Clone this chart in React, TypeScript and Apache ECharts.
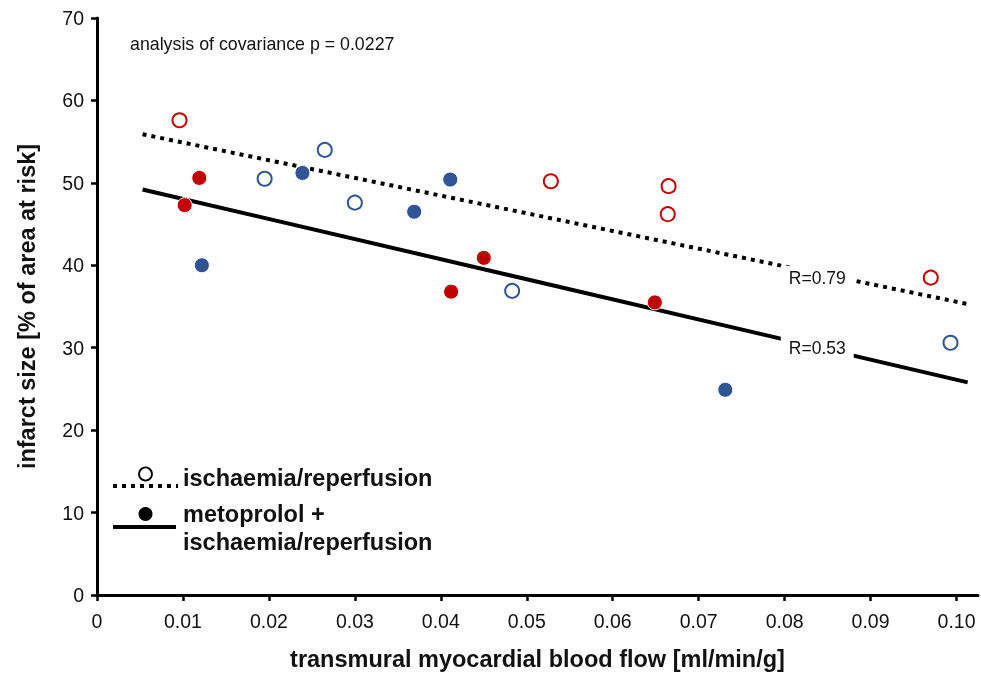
import React, { useEffect, useRef } from "react";
import * as echarts from "echarts";

const RED = "#c00000";
const BLUE = "#2f5597";

// ischaemia/reperfusion (open circles)
const irRed: [number, number][] = [
  [0.0096, 57.6], [0.0528, 50.2], [0.0665, 49.6], [0.0664, 46.2], [0.097, 38.5],
];
const irBlue: [number, number][] = [
  [0.0195, 50.5], [0.0265, 54.0], [0.03, 47.6], [0.0483, 36.9], [0.0993, 30.6],
];
// metoprolol + ischaemia/reperfusion (filled circles)
const metRed: [number, number][] = [
  [0.0119, 50.6], [0.0102, 47.3], [0.045, 40.9], [0.0412, 36.8], [0.0649, 35.5],
];
const metBlue: [number, number][] = [
  [0.0122, 40.0], [0.0239, 51.2], [0.0411, 50.4], [0.0369, 46.5], [0.0731, 24.9],
];
// regression lines
const irFit: [number, number][] = [[0.0053, 55.9], [0.1013, 35.3]];
const metFit: [number, number][] = [[0.0053, 49.2], [0.1013, 25.8]];
const irR = { label: "R=0.79", coord: [0.0838, 38.5] };
const metR = { label: "R=0.53", coord: [0.0838, 30.0] };

const xTicks = [0, 0.01, 0.02, 0.03, 0.04, 0.05, 0.06, 0.07, 0.08, 0.09, 0.1];
const FONT = "Liberation Sans, Arial, sans-serif";

export default function App() {
  const ref = useRef<HTMLDivElement>(null);
  useEffect(() => {
    const chart = echarts.init(ref.current!, null, { renderer: "svg" });
    const openStyle = (c: string) => ({ color: "#ffffff", borderColor: c, borderWidth: 2, opacity: 1 });
    const fillStyle = (c: string) => ({ color: c, borderColor: "#ffffff", borderWidth: 1, opacity: 1 });
    const rLabel = (r: { label: string; coord: number[] }) => ({
      silent: true,
      data: [
        {
          coord: r.coord,
          symbol: "rect",
          symbolSize: [2, 2],
          itemStyle: { color: "rgba(255,255,255,0)" },
          label: {
            show: true,
            position: "inside",
            formatter: r.label,
            color: "#111",
            fontFamily: FONT,
            fontSize: 17.5,
            backgroundColor: "#ffffff",
            padding: [3, 8],
          },
        },
      ],
    });
    chart.setOption({
      animation: false,
      textStyle: { fontFamily: FONT },
      grid: { left: 97, right: 3, top: 18, bottom: 72, containLabel: false },
      xAxis: {
        type: "value",
        min: 0,
        max: 0.1025,
        splitLine: { show: false },
        axisLine: { lineStyle: { color: "#000", width: 3 } },
        axisTick: { customValues: xTicks, length: 6, lineStyle: { color: "#000", width: 2.5 } },
        axisLabel: {
          customValues: xTicks,
          formatter: (v: number) => (v === 0 ? "0" : v.toFixed(2)),
          color: "#111",
          fontSize: 19.5,
          fontFamily: FONT,
          margin: 16,
        },
        name: "transmural myocardial blood flow [ml/min/g]",
        nameLocation: "middle",
        nameGap: 52,
        nameTextStyle: { fontSize: 23.5, fontWeight: "bold", color: "#111", fontFamily: FONT },
      },
      yAxis: {
        type: "value",
        min: 0,
        max: 70,
        interval: 10,
        splitLine: { show: false },
        axisLine: { show: true, lineStyle: { color: "#000", width: 3 } },
        axisTick: { show: true, length: 6, lineStyle: { color: "#000", width: 2.5 } },
        axisLabel: { color: "#111", fontSize: 19.5, fontFamily: FONT, margin: 13 },
        name: "infarct size [% of area at risk]",
        nameLocation: "middle",
        nameGap: 58,
        nameTextStyle: { fontSize: 23.5, fontWeight: "bold", color: "#111", fontFamily: FONT },
      },
      series: [
        {
          type: "line",
          data: irFit,
          symbol: "none",
          lineStyle: { color: "#000", width: 4, type: [4, 5] },
          markPoint: rLabel(irR),
          z: 1,
        },
        {
          type: "line",
          data: metFit,
          symbol: "none",
          lineStyle: { color: "#000", width: 4 },
          markPoint: rLabel(metR),
          z: 1,
        },
        { type: "scatter", data: irRed, symbolSize: 14, itemStyle: openStyle(RED), z: 3 },
        { type: "scatter", data: irBlue, symbolSize: 14, itemStyle: openStyle(BLUE), z: 3 },
        { type: "scatter", data: metRed, symbolSize: 15, itemStyle: fillStyle(RED), z: 3 },
        { type: "scatter", data: metBlue, symbolSize: 15, itemStyle: fillStyle(BLUE), z: 3 },
      ],
      graphic: [
        {
          type: "text",
          left: 130,
          top: 35,
          style: { text: "analysis of covariance p = 0.0227", fontSize: 17.8, fill: "#111", fontFamily: FONT },
        },
        // legend
        {
          type: "line",
          shape: { x1: 113, y1: 486, x2: 178, y2: 486 },
          style: { stroke: "#000", lineWidth: 4, lineDash: [4, 5] },
        },
        {
          type: "circle",
          shape: { cx: 145.5, cy: 474, r: 6.5 },
          style: { fill: "#fff", stroke: "#000", lineWidth: 1.8 },
        },
        {
          type: "text",
          left: 183,
          top: 466,
          style: { text: "ischaemia/reperfusion", fontSize: 23.5, fontWeight: "bold", fill: "#111", fontFamily: FONT },
        },
        {
          type: "line",
          shape: { x1: 113, y1: 527, x2: 176, y2: 527 },
          style: { stroke: "#000", lineWidth: 4 },
        },
        {
          type: "circle",
          shape: { cx: 145.5, cy: 514, r: 7 },
          style: { fill: "#000" },
        },
        {
          type: "text",
          left: 183,
          top: 502,
          style: { text: "metoprolol +", fontSize: 23.5, fontWeight: "bold", fill: "#111", fontFamily: FONT },
        },
        {
          type: "text",
          left: 183,
          top: 530,
          style: { text: "ischaemia/reperfusion", fontSize: 23.5, fontWeight: "bold", fill: "#111", fontFamily: FONT },
        },
      ],
    });
    return () => chart.dispose();
  }, []);
  return <div ref={ref} style={{ position: "fixed", left: 0, top: 0, width: 981, height: 676 }} />;
}
